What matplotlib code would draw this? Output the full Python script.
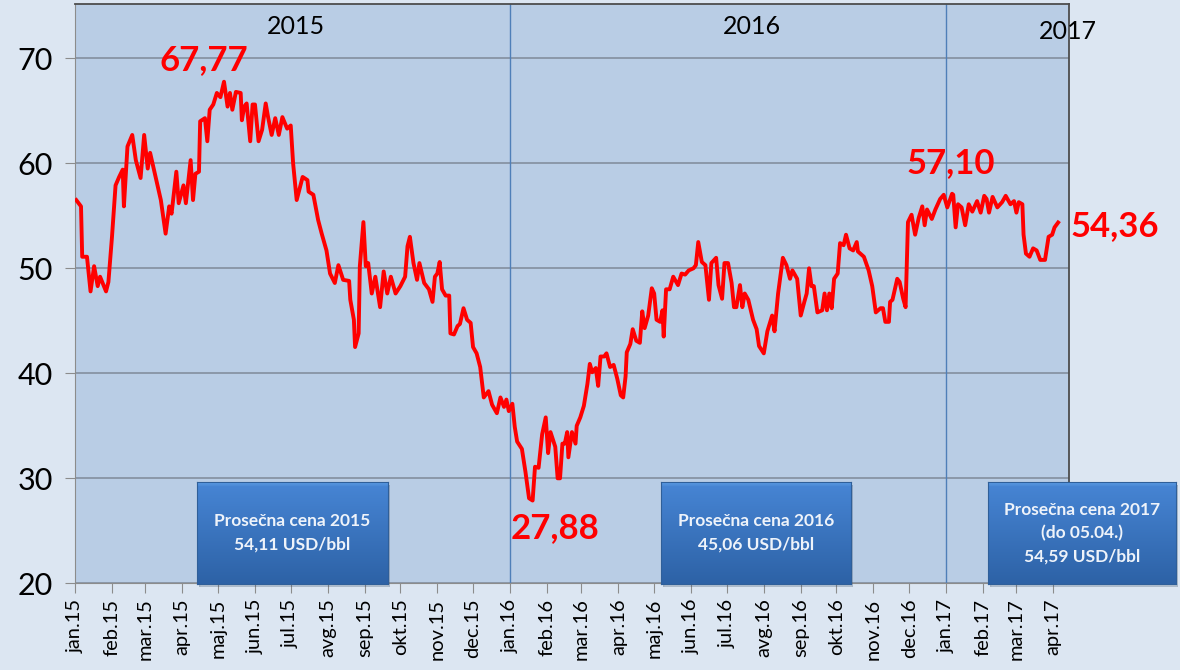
import datetime as dt
import numpy as np
import matplotlib
matplotlib.use("Agg")
import matplotlib.pyplot as plt
import matplotlib.dates as mdates

plt.rcParams['font.family'] = ['Lato', 'DejaVu Sans']

# Brent, USD/bbl - dani od 01.01.2015. i cena (ocitano sa grafika)
dani = [1, 5, 6, 10, 13, 16, 19, 21, 26, 28, 31, 34, 37, 40, 41, 44, 48, 51, 55, 58,
        61, 63, 67, 72, 76, 79, 81, 85, 87, 91, 93, 97, 99, 101, 104, 105, 109, 111, 113, 116,
        119, 122, 125, 128, 130, 132, 135, 139, 140, 142, 144, 147, 149, 151, 154, 157, 160, 162, 165, 168,
        171, 174, 178, 181, 183, 186, 191, 195, 196, 200, 204, 207, 211, 214, 218, 221, 225, 230, 231, 234,
        235, 238, 239, 242, 244, 246, 249, 252, 256, 259, 262, 265, 269, 273, 277, 279, 281, 284, 287, 289,
        293, 297, 300, 302, 304, 306, 308, 311, 314, 315, 318, 321, 323, 326, 329, 332, 334, 337, 340, 343,
        347, 350, 354, 357, 360, 362, 364, 367, 369, 371, 375, 378, 381, 384, 386, 389, 392, 395, 397, 399,
        403, 405, 407, 409, 411, 413, 414, 417, 420, 421, 424, 427, 430, 432, 434, 437, 439, 441, 444, 446,
        449, 452, 455, 458, 460, 462, 463, 466, 468, 471, 474, 476, 478, 481, 484, 486, 488, 491, 493, 494,
        496, 499, 502, 506, 509, 512, 515, 519, 521, 523, 526, 529, 532, 534, 538, 540, 543, 545, 548, 551,
        553, 555, 558, 560, 562, 565, 569, 572, 574, 578, 581, 585, 587, 590, 594, 597, 600, 602, 606, 609,
        612, 614, 616, 618, 620, 623, 627, 629, 631, 633, 635, 637, 640, 642, 645, 647, 650, 653, 656, 657,
        662, 666, 669, 672, 676, 678, 680, 683, 684, 686, 690, 692, 695, 697, 699, 702, 705, 708, 711, 713,
        715, 719, 722, 726, 729, 732, 736, 737, 739, 741, 744, 747, 750, 753, 757, 760, 763, 765, 767, 770,
        774, 778, 781, 785, 788, 790, 792, 795, 796, 798, 801, 804, 807, 810, 814, 817, 820, 822, 825]
cena = [56.5, 55.9, 51.1, 51.1, 47.8, 50.2, 48.3, 49.2, 47.8, 48.7, 53.0, 57.9, 58.7, 59.4, 55.9, 61.6, 62.7, 60.3, 58.6, 62.7,
        59.5, 61.0, 59.0, 56.5, 53.3, 55.9, 55.2, 59.2, 56.2, 57.9, 56.2, 60.3, 56.5, 59.0, 59.2, 64.0, 64.3, 62.1, 65.1, 65.6,
        66.7, 66.3, 67.77, 65.4, 66.7, 65.1, 66.8, 66.7, 64.1, 65.4, 65.7, 62.1, 65.6, 65.6, 62.1, 63.2, 65.7, 64.4, 62.7, 64.3,
        62.7, 64.4, 63.3, 63.6, 60.0, 56.5, 58.7, 58.4, 57.3, 57.0, 54.6, 53.3, 51.7, 49.5, 48.6, 50.3, 48.9, 48.8, 47.0, 45.1,
        42.5, 43.8, 50.2, 54.4, 50.2, 50.5, 47.6, 49.2, 46.3, 49.7, 47.6, 49.2, 47.6, 48.3, 49.2, 52.1, 53.0, 50.5, 48.9, 50.5,
        48.6, 48.0, 46.8, 49.2, 49.5, 50.6, 48.0, 47.4, 47.4, 43.8, 43.7, 44.5, 44.7, 46.2, 45.1, 44.8, 42.5, 41.9, 40.6, 37.7,
        38.3, 37.0, 36.2, 37.7, 36.8, 37.5, 36.4, 37.1, 34.9, 33.5, 32.8, 30.6, 28.1, 27.88, 31.1, 31.0, 34.2, 35.8, 32.4, 34.4,
        33.0, 30.0, 30.0, 33.3, 33.3, 34.4, 32.0, 34.4, 33.3, 35.0, 35.8, 36.9, 39.0, 40.9, 40.1, 40.5, 38.8, 41.6, 41.6, 41.9,
        40.6, 40.8, 39.5, 37.9, 37.7, 39.7, 42.0, 42.8, 44.2, 43.1, 42.9, 45.9, 44.3, 45.5, 48.1, 47.6, 45.1, 44.9, 46.0, 43.5,
        48.0, 48.0, 49.2, 48.4, 49.5, 49.4, 49.8, 50.0, 50.3, 52.5, 50.6, 50.3, 47.0, 50.5, 51.0, 48.4, 47.1, 50.5, 50.5, 48.6,
        46.3, 46.3, 48.4, 46.3, 47.6, 47.0, 45.1, 44.2, 42.6, 41.9, 44.0, 45.5, 44.0, 47.6, 51.0, 50.3, 49.0, 49.8, 49.0, 45.5,
        46.8, 47.6, 50.0, 48.3, 48.3, 45.8, 46.0, 47.6, 46.0, 47.6, 46.2, 49.0, 49.5, 52.4, 52.2, 53.2, 51.9, 51.7, 52.5, 51.6,
        51.1, 49.8, 48.3, 45.8, 46.2, 46.2, 44.9, 44.9, 46.8, 47.0, 49.0, 48.7, 47.1, 46.3, 54.4, 55.1, 53.2, 54.8, 55.9, 54.1,
        55.6, 54.7, 55.6, 56.6, 57.0, 55.8, 57.10, 57.0, 53.9, 56.1, 55.8, 54.1, 56.1, 55.4, 56.4, 55.3, 56.9, 56.6, 55.3, 56.8,
        55.8, 56.3, 56.9, 56.1, 56.4, 55.3, 56.3, 56.1, 53.2, 51.4, 51.1, 51.9, 51.7, 50.8, 50.8, 53.0, 53.2, 53.9, 54.36]

meseci = ['jan', 'feb', 'mar', 'apr', 'maj', 'jun', 'jul', 'avg', 'sep', 'okt', 'nov', 'dec']
godine = ['2015', '2016', '2017']
prosek = ['Prosečna cena 2015\n54,11 USD/bbl',
          'Prosečna cena 2016\n45,06 USD/bbl',
          'Prosečna cena 2017\n(do 05.04.)\n54,59 USD/bbl']

start = dt.date(2015, 1, 1)
datumi = [start + dt.timedelta(days=d) for d in dani]

fig = plt.figure(figsize=(11.8, 6.7), dpi=100)
fig.patch.set_facecolor('#dce6f2')
ax = fig.add_axes([0.0636, 0.1294, 0.8424, 0.8646])
ax.set_facecolor('#b9cde5')

ax.plot(datumi, cena, color='#ff0000', lw=2.8, solid_joinstyle='round', zorder=3)

ax.set_ylim(20, 75.17)
ax.set_yticks([20, 30, 40, 50, 60, 70])
ax.grid(axis='y', color='#7f8a99', lw=1.1)
ax.set_axisbelow(True)

x0 = mdates.date2num(start)
ax.set_xlim(x0 + 0.3, x0 + 834.2)

# mesecne oznake
tick_dates = []
tick_labels = []
for i in range(28):
    y, m = 2015 + i // 12, i % 12 + 1
    tick_dates.append(dt.date(y, m, 1))
    tick_labels.append(f'{meseci[m - 1]}.{str(y)[2:]}')
ax.set_xticks(tick_dates)
ax.set_xticklabels(tick_labels, rotation=90, fontsize=14.5)
ax.tick_params(axis='x', length=7, color='#8c8c8c', pad=4)
ax.tick_params(axis='y', length=7, color='#8c8c8c', labelsize=22, pad=9)

for s in ['left', 'bottom']:
    ax.spines[s].set_color('#8c8c8c')
for s in ['top', 'right']:
    ax.spines[s].set_color('#4d4d4d')
    ax.spines[s].set_linewidth(1.3)

for god in [2016, 2017]:
    ax.axvline(dt.date(god, 1, 1), color='#4f7fb8', lw=1, zorder=2)

# godine
ax.text(x0 + 185, 73.0, godine[0], fontsize=18, ha='center', va='center')
ax.text(x0 + 568, 73.0, godine[1], fontsize=18, ha='center', va='center')
ax.text(x0 + 833, 72.6, godine[2], fontsize=18, ha='center', va='center', clip_on=False)

# ekstremi
crv = dict(color='#ff0000', fontsize=25, fontweight='bold', ha='center', va='center')
ax.text(x0 + 108, 69.8, '67,77', **crv)
ax.text(x0 + 403, 25.3, '27,88', **crv)
ax.text(x0 + 735, 60.0, '57,10', **crv)
ax.text(x0 + 835, 54.0, '54,36', clip_on=False, **{**crv, 'ha': 'left'})

# plave kutije sa prosecnim cenama
grad = np.linspace(0, 1, 100).reshape(-1, 1)
cmap = matplotlib.colors.LinearSegmentedColormap.from_list(
    'b', [(0, '#5a9be2'), (0.04, '#4684d3'), (1, '#2d62a6')])
for (xl, xr), txt in zip([(197, 388), (661, 851), (988, 1176)], prosek):
    l, w = xl / 1180, (xr - xl) / 1180
    b, h = 1 - 584 / 670, 102 / 670
    sh = fig.add_axes([l + 0.002, b - 0.004, w, h])
    sh.axis('off')
    sh.add_patch(plt.Rectangle((0, 0), 1, 1, transform=sh.transAxes, color='#3a4f6a', alpha=0.25))
    bx = fig.add_axes([l, b, w, h])
    bx.imshow(grad, aspect='auto', cmap=cmap, extent=[0, 1, 0, 1])
    bx.set_xticks([])
    bx.set_yticks([])
    for s in bx.spines.values():
        s.set_color('#2f5f99')
    bx.text(0.5, 0.5, txt, color='#eef3fa', fontsize=12.5, fontweight='bold',
            ha='center', va='center', linespacing=1.55, transform=bx.transAxes)

fig.savefig('out.png', dpi=100, facecolor=fig.get_facecolor())
